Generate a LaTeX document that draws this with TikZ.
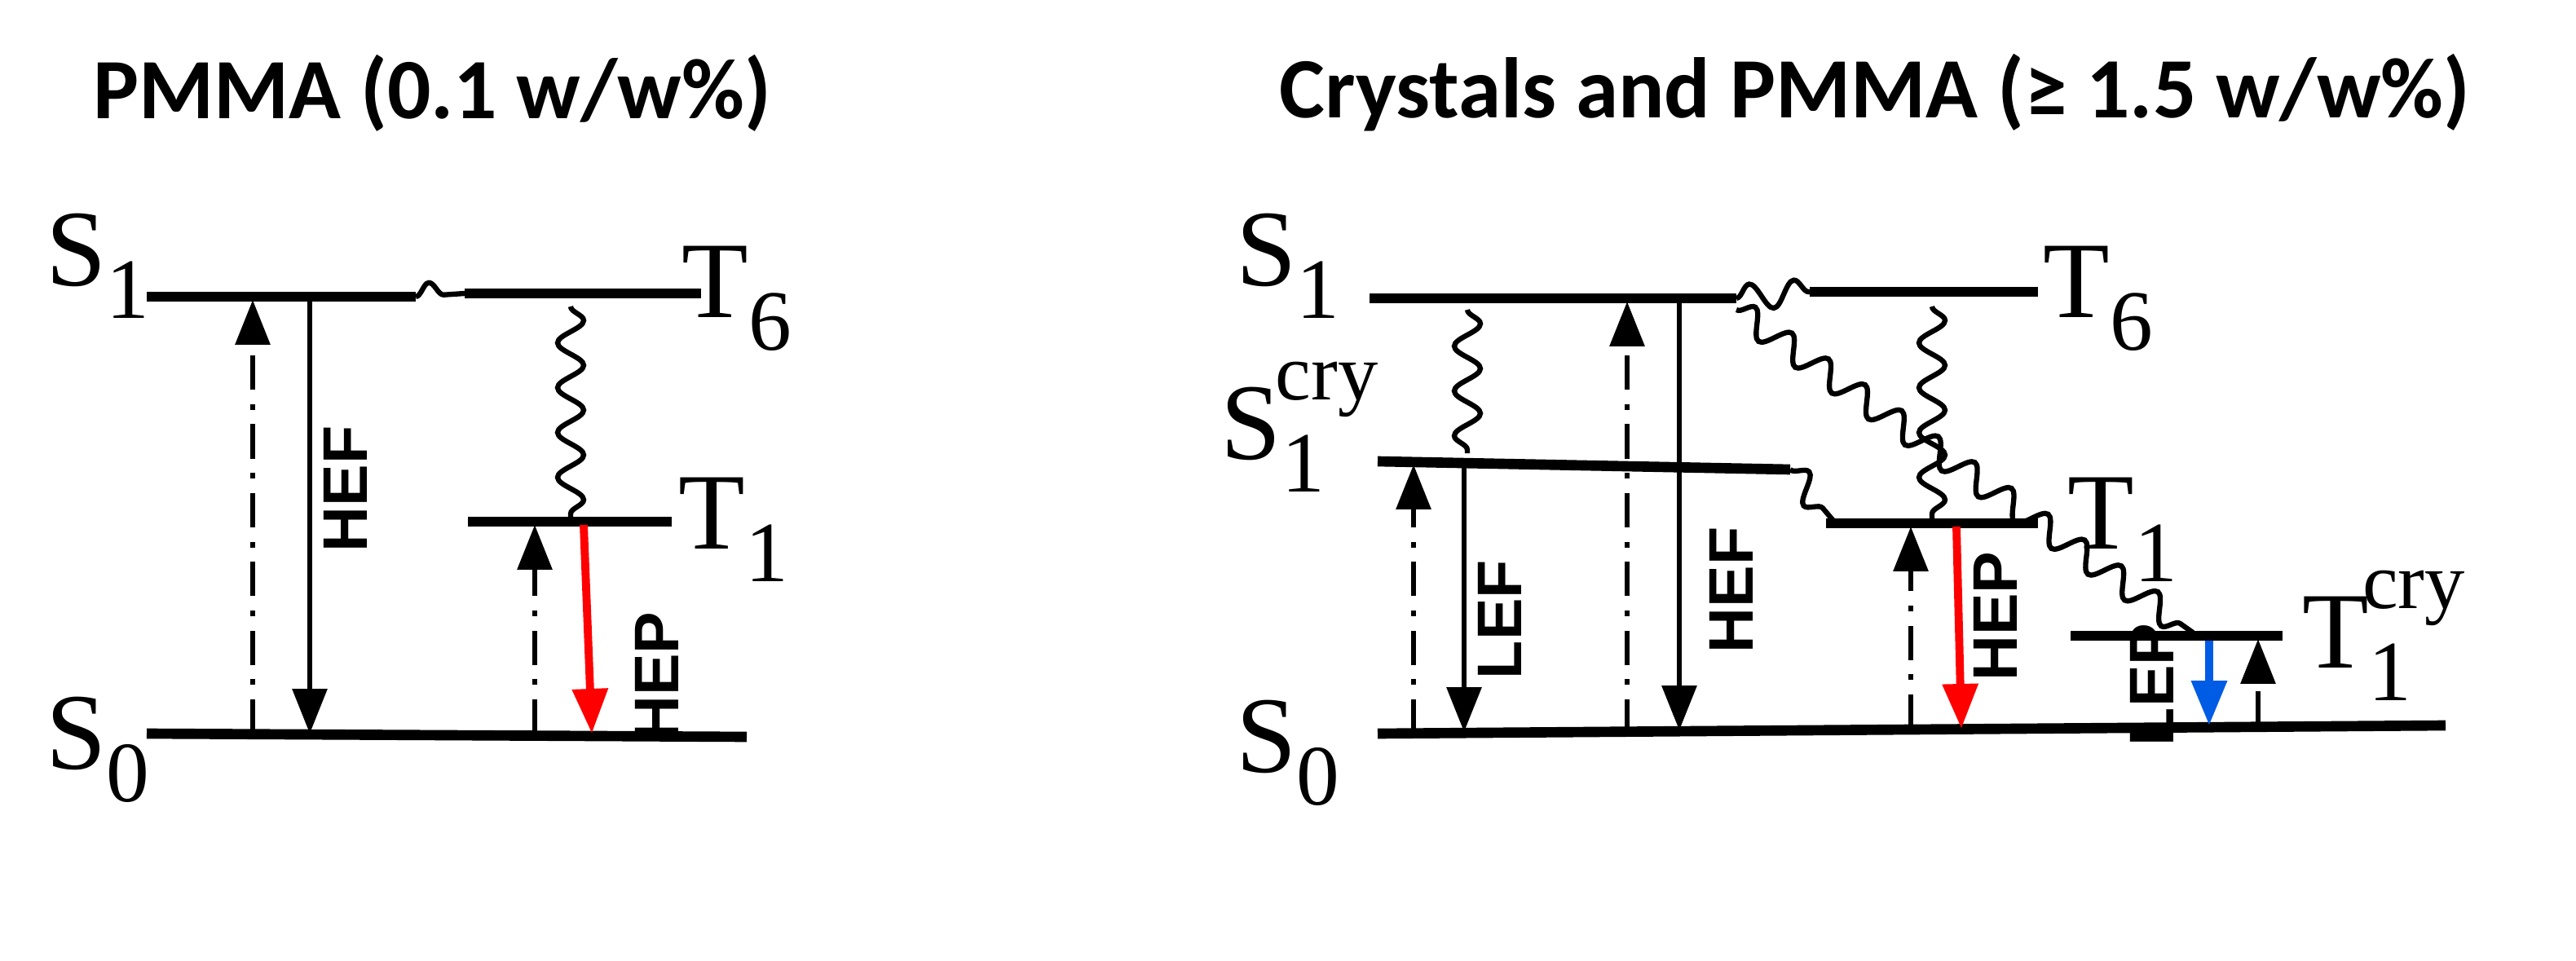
\documentclass[tikz,border=0pt]{standalone}
\usepackage{fontspec}
\setmainfont{Liberation Serif}
\newfontfamily\titlefont{Carlito}
\newfontfamily\arrfont{Liberation Sans}
\usetikzlibrary{arrows.meta,decorations.pathmorphing}
\newcommand{\lsub}[1]{\raisebox{-0.3em}{\fontsize{30}{30}\selectfont #1}}
\newcommand{\lsup}[1]{\raisebox{0.55em}{\fontsize{28}{28}\selectfont #1}}
\begin{document}
\begin{tikzpicture}[x=0.02cm,y=-0.02cm,
 level/.style={line width=3.6pt},
 tip/.style={-{Triangle[width=0.42cm,length=0.55cm]}},
 emis/.style={tip,line width=1.8pt},
 absn/.style={tip,line width=1.8pt,dash pattern=on 12pt off 5pt on 2pt off 5pt},
 wavy/.style={line width=1.8pt,decorate,decoration={snake,segment length=0.55cm,amplitude=0.16cm}},
 lvl/.style={font=\fontsize{38}{42}\selectfont,inner sep=0pt},
 albl/.style={font=\arrfont\bfseries\fontsize{22}{24}\selectfont,rotate=90,inner sep=0pt},
 ttl/.style={font=\titlefont\bfseries\fontsize{30}{34}\selectfont,inner sep=0pt}]
\useasboundingbox (0,0) rectangle (1580,589.5);
\node[ttl] (t1) at (265,57) {PMMA (0.1 w/w\%)};
\node[ttl] (t2) at (1150,57) {Crystals and PMMA (≥ 1.5 w/w\%)};
% left
\coordinate (aS1a) at (90,182); \coordinate (aS1b) at (255,182);
\coordinate (aT6a) at (285,180); \coordinate (aT6b) at (430,180);
\coordinate (aT1a) at (287,320); \coordinate (aT1b) at (412,320);
\coordinate (aS0a) at (90,450); \coordinate (aS0b) at (458,452);
\draw[level] (aS1a)--(aS1b); \draw[level] (aT6a)--(aT6b);
\draw[level] (aT1a)--(aT1b); \draw[level] (aS0a)--(aS0b);
\draw[wavy] (aS1b)--(aT6a);
\node[lvl] (laS1) at (60,163) {S\lsub{1}};
\node[lvl] (laT6) at (452,183) {T\lsub{6}};
\node[lvl] (laT1) at (450,325) {T\lsub{1}};
\node[lvl] (laS0) at (60,460) {S\lsub{0}};
\coordinate (p1) at (155,450); \coordinate (p1e) at (155,184);
\draw[absn] (p1)--(p1e);
\coordinate (p2) at (190,184); \coordinate (p2e) at (190,450);
\draw[emis] (p2)--(p2e);
\node[albl] (hef1) at (212,300) {HEF};
\coordinate (w1) at (350,188); \coordinate (w1e) at (350,320);
\draw[wavy] (w1)--(w1e);
\coordinate (p3) at (328,450); \coordinate (p3e) at (328,322);
\draw[absn] (p3)--(p3e);
\coordinate (p4) at (358,322); \coordinate (p4e) at (363,450);
\draw[emis,red,line width=2.8pt] (p4)--(p4e);
\node[albl] (hep1) at (403,415) {HEP};
% right
\coordinate (bS1a) at (840,183); \coordinate (bS1b) at (1065,183);
\coordinate (bT6a) at (1110,179); \coordinate (bT6b) at (1250,179);
\coordinate (bScA) at (845,283); \coordinate (bScB) at (1098,288);
\coordinate (bT1a) at (1120,321); \coordinate (bT1b) at (1250,321);
\coordinate (bTcA) at (1270,390); \coordinate (bTcB) at (1400,390);
\coordinate (bS0a) at (845,450); \coordinate (bS0b) at (1500,445);
\foreach \a/\b in {bS1a/bS1b,bT6a/bT6b,bScA/bScB,bT1a/bT1b,bTcA/bTcB,bS0a/bS0b}
  \draw[level] (\a)--(\b);
\draw[wavy] (bS1b)--(bT6a);
\node[lvl] (lbS1) at (790,163) {S\lsub{1}};
\node[lvl] (lbT6) at (1287,183) {T\lsub{6}};
\node[lvl] (lbSc) at (797,262) {S\lsub{1}\hspace{-0.45em}\lsup{cry}};
\node[lvl] (lbT1) at (1302,325) {T\lsub{1}};
\node[lvl] (lbTc) at (1462,390) {T\lsub{1}\hspace{-0.45em}\lsup{cry}};
\node[lvl] (lbS0) at (790,462) {S\lsub{0}};
\coordinate (v1) at (900,190); \coordinate (v1e) at (900,278);
\draw[wavy] (v1)--(v1e);
\coordinate (q1) at (867,450); \coordinate (q1e) at (867,285);
\draw[absn] (q1)--(q1e);
\coordinate (q2) at (898,287); \coordinate (q2e) at (898,449);
\draw[emis] (q2)--(q2e);
\node[albl] (lef) at (920,380) {LEF};
\coordinate (q3) at (998,450); \coordinate (q3e) at (998,185);
\draw[absn] (q3)--(q3e);
\coordinate (q4) at (1030,185); \coordinate (q4e) at (1030,448);
\draw[emis] (q4)--(q4e);
\node[albl] (hef2) at (1062,362) {HEF};
\coordinate (v2) at (1185,188); \coordinate (v2e) at (1185,320);
\draw[wavy] (v2)--(v2e);
\draw[wavy] (bScB)--(1125,320);
\coordinate (v3) at (1065,190); \coordinate (v3e) at (1345,388);
\draw[wavy] (v3)--(v3e);
\coordinate (q5) at (1172,447); \coordinate (q5e) at (1172,323);
\draw[absn] (q5)--(q5e);
\coordinate (q6) at (1200,323); \coordinate (q6e) at (1203,447);
\draw[emis,red,line width=2.8pt] (q6)--(q6e);
\node[albl] (hep2) at (1224,378) {HEP};
\coordinate (q7) at (1355,393); \coordinate (q7e) at (1355,445);
\draw[emis,blue!60!cyan!90!black,line width=2.8pt] (q7)--(q7e);
\node[albl] (lep) at (1320,420) {LEP};
\coordinate (q8) at (1385,445); \coordinate (q8e) at (1385,392);
\draw[absn] (q8)--(q8e);
\end{tikzpicture}
\end{document}
